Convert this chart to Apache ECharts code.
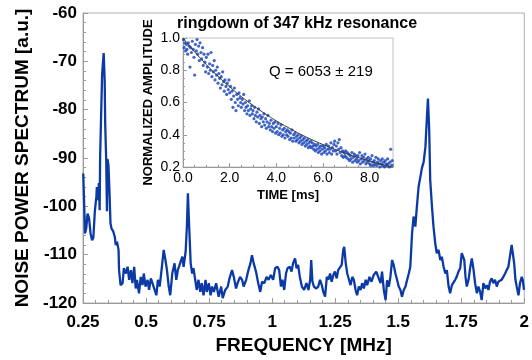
<!DOCTYPE html>
<html><head><meta charset="utf-8">
<script src="https://cdn.jsdelivr.net/npm/echarts@6/dist/echarts.min.js"></script>
<style>html,body{margin:0;padding:0;background:#fff}#c{width:532px;height:360px}</style>
</head><body><div id="c"></div>
<script>
// Main spectrum: frequency [MHz] and noise power [a.u.]
var freqMHz = [0.251,0.258,0.263,0.268,0.274,0.280,0.286,0.291,0.297,0.303,0.305,0.309,0.313,0.316,0.318,0.322,0.326,0.332,0.336,0.338,0.342,0.345,0.347,0.351,0.355,0.359,0.363,
0.370,0.376,0.380,0.385,0.391,0.393,0.399,0.407,0.412,0.420,0.427,0.433,0.440,0.446,0.453,0.459,0.464,0.472,0.479,0.486,0.491,0.498,0.506,0.512,0.519,0.528,0.534,0.541,0.547,0.554,0.563,0.570,0.577,0.583,0.590,0.596,0.604,0.613,0.620,0.626,
0.633,0.644,0.649,0.657,0.662,0.666,0.670,0.677,0.683,0.688,0.695,0.701,0.708,0.715,0.721,0.728,0.736,0.741,0.749,0.756,0.762,0.769,0.778,0.788,0.798,0.804,0.814,0.824,0.831,0.841,0.848,0.857,0.863,0.873,0.881,0.887,0.897,0.906,0.914,0.920,0.927,0.936,0.945,0.953,0.960,0.969,0.978,0.986,0.995,1.004,1.012,1.021,1.028,
1.035,1.041,1.048,1.055,1.061,1.070,1.077,1.083,1.091,1.097,1.103,1.110,1.118,1.127,1.136,1.144,1.151,1.155,1.160,1.166,1.175,1.183,1.190,1.197,1.203,1.210,1.217,1.223,1.230,1.236,1.243,1.249,1.256,1.262,1.269,1.276,1.282,1.286,1.292,1.298,1.305,1.311,1.318,1.324,1.331,1.337,1.344,1.351,1.357,1.364,1.371,1.377,1.386,1.394,1.403,1.413,1.420,
1.430,1.436,1.443,1.450,1.456,1.463,1.469,1.476,1.482,1.489,1.496,1.502,1.509,1.515,1.522,1.529,1.535,1.542,1.548,1.555,1.561,1.568,1.574,1.581,1.588,1.594,1.601,1.608,1.614,1.618,1.623,1.627,1.634,1.640,1.647,1.653,1.660,1.667,1.673,1.680,1.687,1.693,1.700,1.706,1.713,1.719,
1.726,1.732,1.739,1.746,1.752,1.756,1.762,1.767,1.772,1.779,1.786,1.792,1.799,1.805,1.812,1.818,1.825,1.831,1.838,1.845,1.851,1.858,1.864,1.871,1.877,1.884,1.891,1.897,1.904,1.910,1.917,1.924,1.930,1.937,1.943,1.950,1.954,1.960,1.965,1.970,1.977,1.983,1.990,1.994,1.999];
var powerAU = [-93.2,-105.6,-104.5,-101.5,-102.5,-105.6,-107.0,-106.5,-101.0,-98.0,-96.0,-98.7,-95.2,-100.8,-89.7,-80.8,-72.5,-68.3,-73.9,-82.8,-90.4,-101.0,-90.2,-91.5,-97.0,-103.5,-104.6,
-105.2,-106.3,-108.0,-107.3,-109.0,-113.2,-116.3,-115.9,-112.8,-113.9,-112.5,-115.2,-113.2,-115.9,-112.5,-117.0,-115.2,-118.0,-114.6,-116.3,-113.9,-116.6,-115.2,-117.3,-114.9,-116.3,-115.9,-118.4,-115.2,-116.6,-112.5,-109.0,-111.1,-113.2,-116.6,-118.4,-113.9,-111.8,-115.2,-113.2,
-113.2,-110.4,-112.5,-109.4,-104.2,-97.3,-102.8,-111.8,-113.9,-112.8,-115.2,-117.3,-115.2,-117.7,-115.9,-118.4,-115.2,-117.7,-115.9,-118.4,-116.6,-117.7,-115.9,-118.7,-116.6,-119.0,-117.3,-116.6,-114.9,-113.2,-114.6,-117.0,-115.9,-114.6,-115.2,-116.6,-115.2,-113.2,-111.8,-110.1,-111.8,-113.5,-115.9,-117.7,-115.6,-115.9,-114.6,-115.2,-114.2,-115.2,-112.8,-112.5,-113.2,
-116.6,-115.2,-117.3,-113.9,-112.8,-112.5,-113.5,-111.8,-110.8,-112.8,-112.1,-114.6,-116.6,-117.3,-115.9,-117.3,-115.2,-111.1,-115.6,-116.6,-117.0,-116.6,-115.2,-116.3,-117.7,-118.7,-114.6,-115.2,-113.9,-115.6,-114.2,-113.5,-114.9,-113.2,-112.8,-112.1,-109.0,-108.4,-111.8,-113.9,-115.2,-116.3,-114.6,-115.2,-117.3,-118.4,-116.6,-117.3,-115.9,-117.0,-115.2,-116.3,-114.6,-115.6,-114.2,-113.5,-113.2,
-115.9,-113.5,-117.3,-119.4,-115.3,-116.6,-114.6,-111.1,-112.1,-113.9,-115.3,-116.6,-117.3,-118.7,-117.3,-116.6,-115.3,-113.9,-112.5,-105.6,-102.1,-104.2,-100.1,-95.9,-93.9,-92.1,-90.8,-87.7,-81.5,-77.7,-84.2,-94.6,-100.1,-104.2,-107.7,-109.7,-109.0,-111.1,-110.4,-112.5,-113.9,-113.2,-116.6,-118.0,-116.3,-116.6,
-115.2,-114.6,-113.5,-112.8,-109.7,-109.4,-111.1,-114.6,-116.6,-115.2,-112.5,-110.8,-113.2,-115.9,-118.0,-116.6,-117.7,-119.4,-115.9,-117.0,-116.3,-117.3,-115.6,-114.9,-115.9,-115.2,-116.6,-115.6,-115.9,-115.2,-114.6,-113.9,-113.2,-112.5,-110.4,-108.0,-108.4,-111.8,-115.2,-116.6,-118.4,-115.9,-114.6,-115.2,-117.3];
var freqTicks = ['0.25','0.5','0.75','1','1.25','1.5','1.75','2'];

// Inset: ringdown of the 347 kHz resonance, [time ms, normalized amplitude]
var ringdownPoints = [
[0.02,0.99],[0.05,0.94],[0.08,0.97],[0.11,0.92],[0.14,0.96],[0.17,0.93],[0.2,0.9],[0.23,0.97],[0.26,0.95],[0.3,0.82],[0.33,0.94],[0.36,0.91],[0.4,0.98],[0.44,0.93],[0.47,0.88],
[0.5,0.77],[0.53,0.96],[0.57,0.92],[0.6,0.99],[0.63,0.9],[0.67,0.95],[0.7,0.86],[0.73,0.97],[0.77,0.91],[0.8,0.87],[0.84,0.94],[0.87,0.83],[0.9,0.9],[0.94,0.85],[0.97,0.79],
[1.0,0.88],[1.04,0.82],[1.07,0.9],[1.1,0.78],[1.14,0.84],[1.17,0.8],[1.2,0.91],[1.24,0.76],[1.27,0.83],[1.3,0.79],[1.34,0.86],[1.37,0.74],[1.4,0.8],[1.44,0.77],[1.47,0.82],
[1.5,0.72],[1.54,0.78],[1.57,0.75],[1.6,0.69],[1.64,0.76],[1.67,0.71],[1.7,0.79],[1.74,0.73],[1.77,0.67],[1.8,0.74],[1.84,0.7],[1.87,0.65],[1.9,0.72],[1.94,0.68],[1.97,0.74],
[2.0,0.66],[2.04,0.7],[2.07,0.62],[2.1,0.67],[2.14,0.57],[2.17,0.64],[2.2,0.69],[2.24,0.6],[2.27,0.55],[2.3,0.65],[2.34,0.62],[2.37,0.58],[2.4,0.66],[2.44,0.63],[2.47,0.6],
[2.5,0.57],[2.54,0.62],[2.57,0.59],[2.6,0.65],[2.64,0.55],[2.67,0.6],[2.7,0.57],[2.74,0.53],[2.77,0.58],[2.8,0.55],[2.84,0.61],[2.87,0.52],[2.9,0.56],[2.94,0.58],[2.97,0.53],
[3.0,0.55],[3.04,0.5],[3.07,0.57],[3.1,0.52],[3.14,0.48],[3.17,0.54],[3.2,0.51],[3.24,0.56],[3.27,0.47],[3.3,0.52],[3.34,0.5],[3.37,0.45],[3.4,0.51],[3.44,0.48],[3.47,0.53],
[3.5,0.46],[3.54,0.5],[3.57,0.44],[3.6,0.48],[3.64,0.52],[3.67,0.45],[3.7,0.47],[3.74,0.43],[3.77,0.49],[3.8,0.45],[3.84,0.42],[3.87,0.47],[3.9,0.44],[3.94,0.48],[3.97,0.41],
[4.0,0.45],[4.04,0.42],[4.07,0.47],[4.1,0.4],[4.14,0.44],[4.17,0.41],[4.2,0.46],[4.24,0.39],[4.27,0.43],[4.3,0.4],[4.34,0.44],[4.37,0.38],[4.4,0.42],[4.44,0.4],[4.47,0.43],
[4.5,0.39],[4.54,0.42],[4.57,0.37],[4.6,0.41],[4.64,0.38],[4.67,0.43],[4.7,0.36],[4.74,0.4],[4.77,0.38],[4.8,0.41],[4.84,0.36],[4.87,0.39],[4.9,0.37],[4.94,0.4],[4.97,0.35],
[5.0,0.38],[5.04,0.36],[5.07,0.39],[5.1,0.34],[5.14,0.37],[5.17,0.35],[5.2,0.38],[5.24,0.33],[5.27,0.36],[5.3,0.34],[5.34,0.37],[5.37,0.32],[5.4,0.35],[5.44,0.33],[5.47,0.36],
[5.5,0.32],[5.54,0.35],[5.57,0.33],[5.6,0.31],[5.64,0.34],[5.67,0.3],[5.7,0.33],[5.74,0.31],[5.77,0.34],[5.8,0.29],[5.84,0.32],[5.87,0.3],[5.9,0.33],[5.94,0.28],[5.97,0.31],
[6.0,0.33],[6.04,0.29],[6.07,0.32],[6.1,0.3],[6.14,0.34],[6.17,0.28],[6.2,0.31],[6.24,0.33],[6.27,0.29],[6.3,0.31],[6.34,0.35],[6.37,0.28],[6.4,0.32],[6.44,0.3],[6.47,0.34],
[6.5,0.36],[6.54,0.3],[6.57,0.33],[6.6,0.28],[6.64,0.35],[6.67,0.31],[6.7,0.37],[6.74,0.29],[6.77,0.32],[6.8,0.27],[6.84,0.3],[6.87,0.26],[6.9,0.29],[6.94,0.27],[6.97,0.3],
[7.0,0.26],[7.04,0.29],[7.07,0.25],[7.1,0.28],[7.14,0.24],[7.17,0.27],[7.2,0.25],[7.24,0.29],[7.27,0.23],[7.3,0.26],[7.34,0.28],[7.37,0.24],[7.4,0.27],[7.44,0.25],[7.47,0.23],
[7.5,0.27],[7.54,0.24],[7.57,0.29],[7.6,0.22],[7.64,0.25],[7.67,0.27],[7.7,0.23],[7.74,0.26],[7.77,0.24],[7.8,0.28],[7.84,0.22],[7.87,0.25],[7.9,0.23],[7.94,0.26],[7.97,0.24],
[8.0,0.22],[8.04,0.25],[8.07,0.21],[8.1,0.27],[8.14,0.23],[8.17,0.21],[8.2,0.24],[8.24,0.22],[8.27,0.26],[8.3,0.21],[8.34,0.23],[8.37,0.25],[8.4,0.22],[8.44,0.2],[8.47,0.24],
[8.5,0.22],[8.54,0.25],[8.57,0.21],[8.6,0.23],[8.64,0.2],[8.67,0.24],[8.7,0.22],[8.74,0.21],[8.77,0.25],[8.8,0.22],[8.84,0.2],[8.87,0.23],[8.9,0.31],[8.94,0.21],[8.97,0.24]];
// Exponential fit (Q = 6053)
var fitTime = [0,0.5,1,1.5,2,2.5,3,3.5,4,4.5,5,5.5,6,6.5,7,7.5,8,8.5,9];
var fitAmp = [1.000,0.914,0.835,0.763,0.697,0.637,0.582,0.532,0.486,0.445,0.406,0.371,0.339,0.310,0.283,0.259,0.237,0.216,0.198];

var spectrum = freqMHz.map(function(f,i){return [f, powerAU[i]];});
var fit = fitTime.map(function(t,i){return [t, fitAmp[i]];});

var FONT = 'Liberation Sans, Arial, sans-serif';
var axisGray = '#9a9a9a';
var chart = echarts.init(document.getElementById('c'), null, {renderer:'canvas'});
chart.setOption({
  animation:false,
  backgroundColor:'#fff',
  title:[
    {text:'ringdown of 347 kHz resonance', left:172, top:11, textStyle:{fontFamily:FONT, fontSize:16, fontWeight:'bold', color:'#000'}},
    {text:'Q = 6053 ± 219', left:264, top:59, textStyle:{fontFamily:FONT, fontSize:15, fontWeight:'normal', color:'#000'}}
  ],
  grid:[
    {left:83, right:6, top:13, bottom:57, show:true, borderColor:'#b0b0b0', borderWidth:1, backgroundColor:'transparent'},
    {left:183, right:139, top:38, bottom:193, show:true, borderColor:'#c0c0c0', borderWidth:1, backgroundColor:'#fff'}
  ],
  xAxis:[
    {type:'value', gridIndex:0, min:0.25, max:2, interval:0.25,
     name:'FREQUENCY [MHz]', nameLocation:'middle', nameGap:28,
     nameTextStyle:{fontFamily:FONT, fontSize:19, fontWeight:'bold', color:'#000'},
     axisLine:{show:true, lineStyle:{color:axisGray}},
     axisTick:{show:true, inside:true, length:5, lineStyle:{color:axisGray}},
     minorTick:{show:true, splitNumber:5, length:3, lineStyle:{color:axisGray}},
     splitLine:{show:false},
     axisLabel:{fontFamily:FONT, fontSize:17, fontWeight:'bold', color:'#000', margin:11,
       formatter:function(v){var i=Math.round((v-0.25)/0.25); return freqTicks[i]||'';}}},
    {type:'value', gridIndex:1, min:0, max:9, interval:2,
     name:'TIME [ms]', nameLocation:'middle', nameGap:22,
     nameTextStyle:{fontFamily:FONT, fontSize:13, fontWeight:'bold', color:'#000'},
     axisLine:{show:true, lineStyle:{color:axisGray}},
     axisTick:{show:true, inside:true, length:4, lineStyle:{color:axisGray}},
     minorTick:{show:true, splitNumber:4, length:2, lineStyle:{color:axisGray}},
     splitLine:{show:false},
     axisLabel:{fontFamily:FONT, fontSize:14, color:'#000', margin:4, showMaxLabel:false,
       formatter:function(v){return v===9?'':v.toFixed(1);}}}
  ],
  yAxis:[
    {type:'value', gridIndex:0, min:-120, max:-60, interval:10,
     name:'NOISE POWER SPECTRUM [a.u.]', nameLocation:'middle', nameGap:48,
     nameTextStyle:{fontFamily:FONT, fontSize:19, fontWeight:'bold', color:'#000'},
     axisLine:{show:true, lineStyle:{color:axisGray}},
     axisTick:{show:true, inside:true, length:5, lineStyle:{color:axisGray}},
     minorTick:{show:true, splitNumber:5, length:3, lineStyle:{color:axisGray}},
     splitLine:{show:false},
     axisLabel:{fontFamily:FONT, fontSize:17, fontWeight:'bold', color:'#000', margin:6}},
    {type:'value', gridIndex:1, min:0.2, max:1.0, interval:0.2,
     name:'NORMALIZED AMPLITUDE', nameLocation:'middle', nameGap:28,
     nameTextStyle:{fontFamily:FONT, fontSize:13, fontWeight:'bold', color:'#000'},
     axisLine:{show:true, lineStyle:{color:axisGray}},
     axisTick:{show:true, inside:true, length:4, lineStyle:{color:axisGray}},
     minorTick:{show:true, splitNumber:4, length:2, lineStyle:{color:axisGray}},
     splitLine:{show:false},
     axisLabel:{fontFamily:FONT, fontSize:14, color:'#000', margin:3, formatter:function(v){return v.toFixed(1);}}}
  ],
  series:[
    {type:'line', xAxisIndex:0, yAxisIndex:0, data:spectrum, showSymbol:false, symbol:'none',
     lineStyle:{color:'#0b3aa6', width:2.3}, z:2},
    {type:'scatter', xAxisIndex:1, yAxisIndex:1, data:ringdownPoints, symbolSize:3.2,
     itemStyle:{color:'#1240b8'}, z:3},
    {type:'line', xAxisIndex:1, yAxisIndex:1, data:fit, smooth:true, showSymbol:false, symbol:'none',
     lineStyle:{color:'#333', width:1}, z:4}
  ]
});
</script>
</body></html>
